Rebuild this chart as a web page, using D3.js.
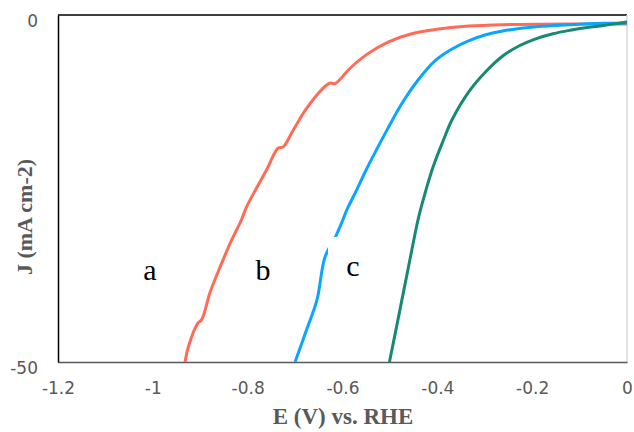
<!DOCTYPE html>
<html>
<head>
<meta charset="utf-8">
<script src="https://cdn.jsdelivr.net/npm/d3@7"></script>
<style>
  body { margin: 0; background: #fff; }
  .tick text { font-family: "DejaVu Sans", sans-serif; font-size: 17px; fill: #595959; }
</style>
</head>
<body>
<div id="chart"></div>
<script>
(function () {

  // curve a (red)
  const aE = [-0.932, -0.925, -0.905, -0.897, -0.879, -0.858, -0.837, -0.813, -0.802, -0.760, -0.736, -0.725, -0.704, -0.675, -0.637, -0.626, -0.616, -0.583, -0.547, -0.504, -0.454, -0.405, -0.333, -0.262, -0.120, 0]
  const aJ = [-50, -47.8, -44.4, -43.9, -39.9, -36.3, -32.9, -29.5, -27.6, -22.3, -19.2, -19.0, -16.6, -13.4, -10.3, -9.8, -9.9, -7.6, -5.6, -3.9, -2.7, -2.1, -1.6, -1.4, -1.3, -1.3]

  // curve b (blue)
  const bE = [-0.700, -0.676, -0.654, -0.637, -0.615, -0.602, -0.591, -0.570, -0.550, -0.529, -0.504, -0.477, -0.441, -0.405, -0.369, -0.333, -0.298, -0.262, -0.191, -0.120, -0.049, 0]
  const bJ = [-50, -45.4, -41.1, -34.9, -32.0, -30.0, -28.1, -25.2, -22.3, -19.5, -16.3, -13.0, -9.4, -6.6, -4.9, -3.7, -2.85, -2.3, -1.7, -1.4, -1.2, -1.15]

  // curve c (green)
  const cE = [-0.501, -0.483, -0.462, -0.440, -0.426, -0.409, -0.387, -0.369, -0.333, -0.297, -0.262, -0.226, -0.191, -0.156, -0.120, -0.084, -0.049, 0]
  const cJ = [-50, -43.9, -36.7, -29.3, -25.7, -21.9, -18.0, -15.1, -11.0, -8.1, -5.9, -4.4, -3.4, -2.7, -2.2, -1.8, -1.5, -1.0]

  const xTicks = [-1.2, -1, -0.8, -0.6, -0.4, -0.2, 0]
  const yTicks = [0, -50]

  const series = [
    { name: "a", E: aE, J: aJ, color: "#ff6b57" },
    { name: "b", E: bE, J: bJ, color: "#0aa5ff" },
    { name: "c", E: cE, J: cJ, color: "#168a72" }
  ]

  const W = 634, H = 432
  const left = 58, right = 627, top = 15, bottom = 362

  const svg = d3.select("#chart").append("svg")
      .attr("width", W)
      .attr("height", H)

  const x = d3.scaleLinear().domain([-1.2, 0]).range([left, right])
  const y = d3.scaleLinear().domain([-50, 0]).range([bottom, top])

  svg.append("defs").append("clipPath").attr("id", "plot")
    .append("rect")
      .attr("x", left).attr("y", top - 5)
      .attr("width", right - left).attr("height", bottom - top + 5)

  // frame: top black, right light grey
  svg.append("line")
      .attr("x1", left).attr("x2", right).attr("y1", top).attr("y2", top)
      .attr("stroke", "#000").attr("stroke-width", 1.5)
  svg.append("line")
      .attr("x1", right).attr("x2", right).attr("y1", top).attr("y2", bottom)
      .attr("stroke", "#d9d9d9").attr("stroke-width", 1.5)

  const fmt = d => d === 0 ? "0" : String(+d.toFixed(1))

  const xAxis = d3.axisBottom(x).tickValues(xTicks).tickSize(0).tickPadding(20).tickFormat(fmt)
  svg.append("g")
      .attr("transform", "translate(0," + bottom + ")")
      .call(xAxis)
      .call(g => g.select(".domain").attr("stroke", "#595959").attr("stroke-width", 1.5))

  const yAxis = d3.axisLeft(y).tickValues(yTicks).tickSize(0).tickPadding(20).tickFormat(fmt)
  svg.append("g")
      .attr("transform", "translate(" + left + ",0)")
      .call(yAxis)
      .call(g => g.select(".domain").attr("stroke", "#000").attr("stroke-width", 1.5))
      .call(g => g.selectAll(".tick text").attr("dy", "0.65em"))

  const line = d3.line()
      .x(d => x(d[0]))
      .y(d => y(d[1]))
      .curve(d3.curveCatmullRom.alpha(0.5))

  svg.append("g")
      .attr("clip-path", "url(#plot)")
    .selectAll("path")
    .data(series)
    .enter().append("path")
      .attr("d", s => line(s.E.map((e, i) => [e, s.J[i]])))
      .attr("fill", "none")
      .attr("stroke", s => s.color)
      .attr("stroke-width", 3)
      .attr("stroke-linejoin", "round")

  // curve labels (c sits on a white box that hides part of curve b)
  svg.append("rect")
      .attr("x", 328).attr("y", 237)
      .attr("width", 50).attr("height", 52)
      .attr("fill", "#fff")

  const labels = [
    { t: "a", x: 150, y: 280 },
    { t: "b", x: 263, y: 280 },
    { t: "c", x: 353, y: 276 }
  ]
  svg.selectAll(".lbl")
    .data(labels)
    .enter().append("text")
      .attr("class", "lbl")
      .attr("x", d => d.x)
      .attr("y", d => d.y)
      .attr("text-anchor", "middle")
      .style("font-family", "'Liberation Serif', 'Times New Roman', serif")
      .style("font-size", "30px")
      .text(d => d.t)

  // axis titles
  svg.append("text")
      .attr("x", 343)
      .attr("y", 424)
      .attr("text-anchor", "middle")
      .style("font-family", "'Liberation Serif', 'Times New Roman', serif")
      .style("font-weight", "bold")
      .style("font-size", "23px")
      .style("fill", "#595959")
      .text("E (V) vs. RHE")

  svg.append("text")
      .attr("transform", "translate(32,217) rotate(-90)")
      .attr("text-anchor", "middle")
      .style("font-family", "'Liberation Serif', 'Times New Roman', serif")
      .style("font-weight", "bold")
      .style("font-size", "22px")
      .style("fill", "#595959")
      .text("J (mA cm-2)")

})();
</script>
</body>
</html>
